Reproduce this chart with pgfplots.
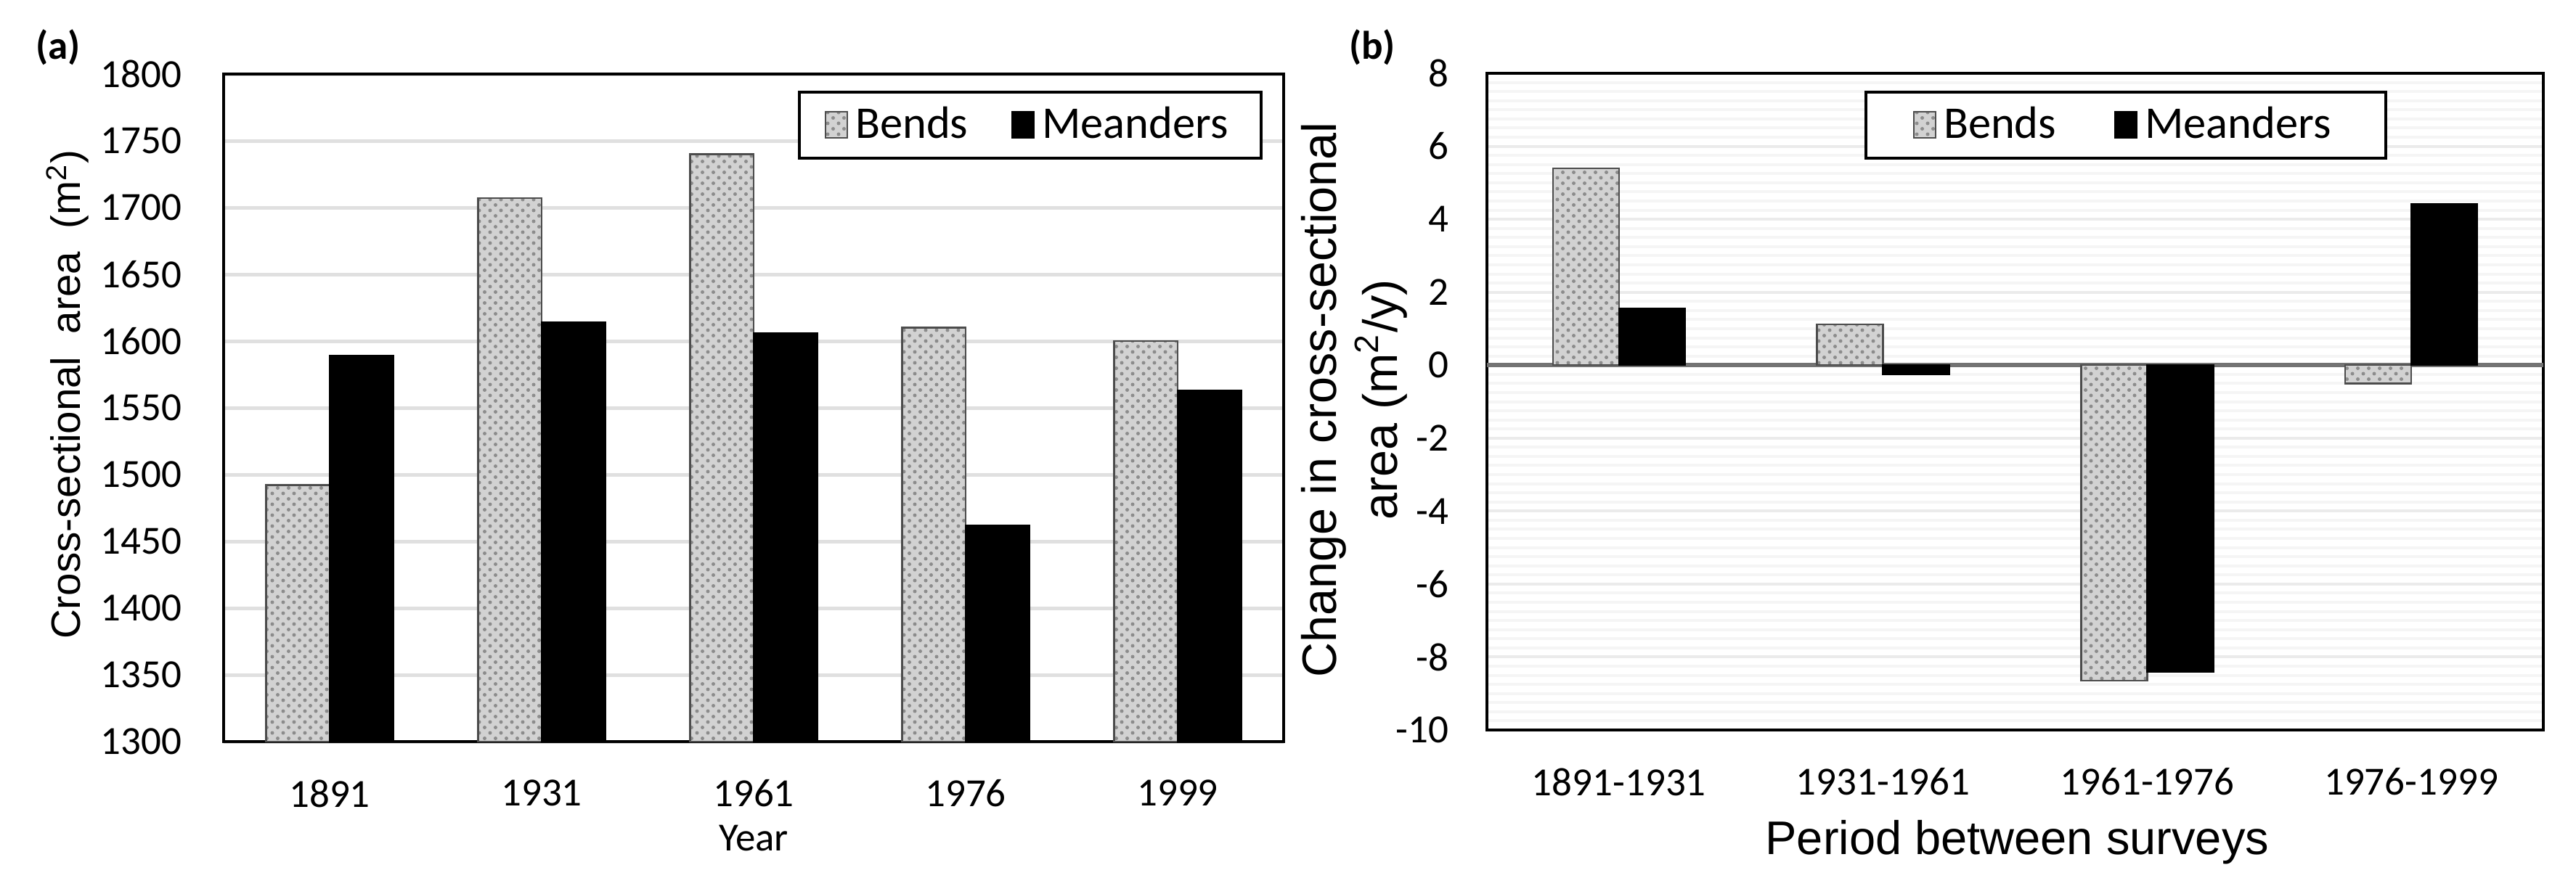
\documentclass[border=0pt]{standalone}
\usepackage{fontspec}
\setmainfont{Carlito}
\newfontfamily\arialf{Liberation Sans}
\usepackage{pgfplots}
\pgfplotsset{compat=1.18}
\usetikzlibrary{patterns}

\pgfplotstableread{
x  bends  meanders
0  1492   1589
1  1707   1614
2  1740   1606
3  1610   1462
4  1600   1563
}\tablea

\pgfplotstableread{
x  bends  meanders
0  5.39   1.55
1  1.12  -0.24
2 -8.65  -8.40
3 -0.50   4.41
}\tableb

\pgfplotsset{
  bendsstyle/.style={fill=gray!35, draw=black!70, line width=0.5pt,
     postaction={pattern=crosshatch dots, pattern color=black!45}},
  meanderstyle/.style={fill=black, draw=black, line width=0.5pt},
  common/.style={
    scale only axis,
    anchor=south west,
    ybar,
    major tick length=0pt,
    minor tick length=0pt,
    axis line style={black, line width=0.8pt},
    /pgf/number format/assume math mode=true,
    /pgf/number format/1000 sep={},
    tick label style={font=\fontsize{11}{13}\selectfont},
    legend columns=2,
    legend style={draw=black, line width=0.8pt, font=\fontsize{12.5}{14}\selectfont,
       inner xsep=5pt, inner ysep=2pt},
    legend image code/.code={\draw[##1, line width=0.4pt] (0pt,-3.6pt) rectangle (6pt,3.6pt);},
    clip=true,
  },
}

\begin{document}
\begin{tikzpicture}
\path[use as bounding box] (0,0) rectangle (709.6pt,244pt);

% Panel (a)
\begin{axis}[common,
  at={(61.6pt,39.6pt)},
  width=292pt, height=184pt,
  ymin=1300, ymax=1800, ytick distance=50,
  xmin=-0.5, xmax=4.5,
  xtick={0,1,2,3,4},
  xticklabels={1891,1931,1961,1976,1999},
  bar width=0.3,
  ymajorgrids,
  grid style={black!12, line width=1pt},
  yticklabel style={xshift=-8pt},
  xticklabel style={yshift=-7pt},
  xlabel={Year},
  xlabel style={font=\fontsize{11}{13}\selectfont, at={(axis description cs:0.5,0)}, anchor=center, yshift=-26.6pt},
  ylabel={Cross-sectional~ area~ (m\textsuperscript{2})},
  ylabel style={font=\arialf\fontsize{11.3}{13}\selectfont, at={([xshift=-43pt]axis description cs:0,0.52)}, anchor=center},
  legend style={at={(0.98,0.975)}, anchor=north east, inner xsep=7pt,
     /tikz/every even column/.append style={column sep=10pt}},
]
\addplot[bendsstyle, bar shift=-0.15] table[x=x, y=bends] {\tablea};
\addlegendentry{Bends}
\addplot[meanderstyle, bar shift=0.15] table[x=x, y=meanders] {\tablea};
\addlegendentry{Meanders}
\end{axis}

% Panel (b)
\begin{axis}[common,
  at={(409.6pt,42.8pt)},
  width=291pt, height=181pt,
  ymin=-10, ymax=8, ytick distance=2,
  minor y tick num=7,
  xmin=-0.5, xmax=3.5,
  xtick={0,1,2,3},
  xticklabels={1891-1931,1931-1961,1961-1976,1976-1999},
  bar width=0.25,
  ymajorgrids, yminorgrids,
  major grid style={black!8, line width=0.8pt},
  minor grid style={black!4, line width=0.8pt},
  extra y ticks={0},
  extra y tick labels={},
  extra y tick style={grid=major, major grid style={black!55, line width=1.3pt}},
  yticklabel style={xshift=-7pt},
  xticklabel style={yshift=-7pt},
  xlabel={Period between surveys},
  xlabel style={font=\arialf\fontsize{13}{15}\selectfont, at={(axis description cs:0.502,0)}, anchor=center, yshift=-31pt},
  ylabel={Change in cross-sectional\\area (m\textsuperscript{2}/y)},
  ylabel style={font=\arialf\fontsize{13.3}{16.8}\selectfont, align=center, at={([xshift=-36.6pt]axis description cs:0,0.503)}, anchor=center},
  legend style={at={(0.852,0.9735)}, anchor=north east, inner xsep=13pt,
     /tikz/every even column/.append style={column sep=14pt}},
]
\addplot[bendsstyle, bar shift=-0.125] table[x=x, y=bends] {\tableb};
\addlegendentry{Bends}
\addplot[meanderstyle, bar shift=0.125] table[x=x, y=meanders] {\tableb};
\addlegendentry{Meanders}
\end{axis}

\node[font=\bfseries\fontsize{11}{13}\selectfont] at (16pt,231pt) {(a)};
\node[font=\bfseries\fontsize{11}{13}\selectfont] at (378pt,231pt) {(b)};
\end{tikzpicture}
\end{document}
